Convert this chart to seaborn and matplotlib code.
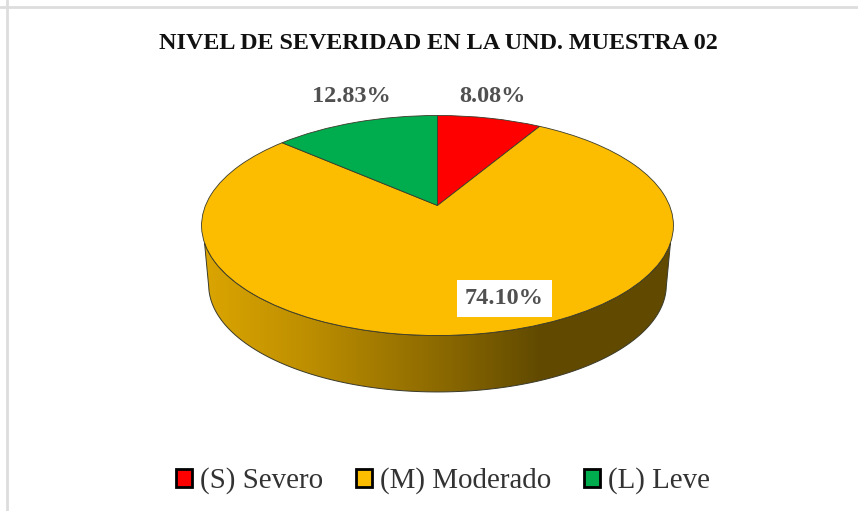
import numpy as np
import seaborn as sns
import matplotlib.pyplot as plt
from matplotlib.colors import LinearSegmentedColormap
from matplotlib.patches import Patch, Polygon
from matplotlib.transforms import Transform

categories = ["(S) Severo", "(M) Moderado", "(L) Leve"]
values = [8.08, 74.10, 12.83]
value_labels = ["8.08%", "74.10%", "12.83%"]
title = "NIVEL DE SEVERIDAD EN LA UND. MUESTRA 02"
slice_colors = ["#FF0000", "#FCBD00", "#00AD4E"]
wall_colors = ["#DCA600", "#BE8F00", "#8A6800", "#614A00", "#614A00"]
wall_stops = [0.0, 0.22, 0.52, 0.72, 1.0]


# tilted disc: unit circle to pixels, front of the pie looks bigger
class Tilt(Transform):
    input_dims = 2
    output_dims = 2

    def __init__(self, cx, cy, a, b, c, k=0.1818):
        super().__init__()
        self.p = (cx, cy, a, b, c, k)

    def transform_non_affine(self, xy):
        cx, cy, a, b, c, k = self.p
        xy = np.asarray(xy)
        d = 1 + k * xy[:, 1]
        return np.column_stack([cx + a * xy[:, 0] / d, cy - (b * xy[:, 1] + c) / d])


def arc(start, stop):
    t = np.linspace(start, stop, 200)
    return np.column_stack([np.cos(t), np.sin(t)])


sns.set_theme(style="white")
plt.rcParams["font.family"] = "Liberation Serif"

fig, ax = plt.subplots(figsize=(8.58, 5.11), dpi=100)
ax.set_position([0, 0, 1, 1])

top = Tilt(437.5, 225.5, 232, 110, 20)
bottom = Tilt(437.5, 285, 225, 107, 19.5)

wedges, _ = ax.pie(values, colors=sns.color_palette(slice_colors), startangle=90, counterclock=False,
                   wedgeprops=dict(edgecolor="#3a3a2a", linewidth=0.6))
for w in wedges:
    w.set_transform(top + ax.transData)
    w.set_zorder(3)

ax.set_aspect("auto")
ax.set_xlim(0, 858)
ax.set_ylim(511, 0)
ax.set_axis_off()

# side wall of the pie
upper = top.transform(arc(np.pi + 0.337, 2 * np.pi - 0.337))
lower = bottom.transform(arc(2 * np.pi - 0.2, np.pi + 0.2))
wall = Polygon(np.vstack([upper, lower]), closed=True, facecolor="none", edgecolor="#3a3a2a",
               linewidth=0.7, transform=ax.transData, zorder=2)
ax.add_patch(wall)
cmap = LinearSegmentedColormap.from_list("wall", list(zip(wall_stops, wall_colors)))
im = ax.imshow(np.linspace(0, 1, 256)[None, :], cmap=cmap, aspect="auto",
               extent=(201, 672, 395, 200), zorder=1)
im.set_clip_path(wall)
ax.set_xlim(0, 858)
ax.set_ylim(511, 0)

# data labels
label_style = dict(ha="center", va="center", fontsize=17.5, fontweight="bold", color="#505050", zorder=5)
ax.text(492, 96.5, value_labels[0], **label_style)
ax.text(351, 96.5, value_labels[2], **label_style)
ax.text(504.5, 298.5, value_labels[1], **label_style,
        bbox=dict(facecolor="white", edgecolor="none", boxstyle="square,pad=0.34"))

ax.text(438, 43.5, title, ha="center", va="center", fontsize=17.4, fontweight="bold", color="#111111")

# thin grey frame, only top and left are visible
ax.axhline(7, color="#DDDDDD", linewidth=2, zorder=0)
ax.axvline(7, color="#DDDDDD", linewidth=2, zorder=0)

handles = [Patch(facecolor=c, edgecolor="black", linewidth=2) for c in slice_colors]
ax.legend(handles, categories, loc="center", bbox_to_anchor=(443 / 858, 1 - 481 / 511), ncol=3, frameon=False,
          fontsize=20.9, handlelength=0.54, handleheight=0.54, handletextpad=0.26, columnspacing=1.16,
          labelcolor="#333333")

fig.savefig("out.png", dpi=100)
